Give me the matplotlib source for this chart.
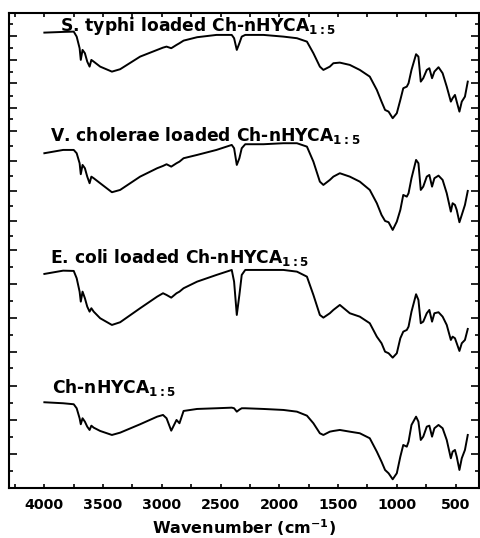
import numpy as np
import matplotlib
matplotlib.use('Agg')
import matplotlib.pyplot as plt
from matplotlib.ticker import MultipleLocator, FixedLocator

plt.rcParams['font.family'] = 'DejaVu Sans'
plt.rcParams['font.weight'] = 'bold'
plt.rcParams['mathtext.default'] = 'bf'

# wavenumber grid (cm-1) shared by all spectra
wavenumber = [4000, 3840, 3750, 3725, 3700, 3690, 3675, 3655, 3635, 3615,
              3600, 3580, 3525, 3425, 3355, 3185, 3040, 2990, 2960, 2920,
              2875, 2850, 2815, 2700, 2535, 2405, 2385, 2362, 2340, 2320,
              2290, 2135, 1965, 1850, 1765, 1710, 1655, 1625, 1570, 1540,
              1485, 1400, 1315, 1230, 1170, 1130, 1100, 1070, 1035, 1000,
              970, 945, 915, 900, 875, 836, 816, 796, 775, 745,
              723, 700, 680, 645, 610, 575, 540, 525, 505, 490,
              467, 447, 420, 396]

# absorption depth below each trace's offset (arbitrary units)
s_typhi = [12.7, 12.0, 11.7, 16.7, 28.3, 40.0, 30.0, 33.3, 41.7, 46.7,
           40.0, 41.7, 46.7, 51.7, 49.3, 36.7, 30.0, 27.7, 26.7, 28.3,
           25.0, 23.3, 20.7, 17.3, 15.0, 15.0, 18.3, 30.0, 23.3, 16.7,
           15.0, 15.0, 16.7, 18.3, 21.7, 33.3, 46.7, 50.0, 46.7, 43.3,
           42.7, 45.0, 50.0, 56.7, 70.0, 81.7, 90.0, 91.7, 98.3, 93.3,
           80.0, 68.3, 66.7, 63.3, 50.0, 34.3, 36.7, 61.7, 58.3, 50.0,
           48.3, 58.3, 51.7, 47.3, 53.3, 66.7, 81.7, 78.3, 75.0, 81.7,
           91.7, 81.7, 76.7, 61.7]

v_cholerae = [18.3, 15.0, 15.0, 18.3, 28.3, 39.3, 30.0, 33.3, 41.7, 48.3,
              41.7, 43.3, 48.3, 57.3, 55.0, 41.7, 33.3, 31.0, 29.3, 31.7,
              28.3, 26.7, 23.3, 20.0, 15.0, 10.0, 13.3, 30.0, 23.3, 13.3,
              9.3, 9.3, 8.3, 8.3, 11.7, 26.7, 46.7, 50.0, 45.0, 41.7,
              38.3, 41.7, 46.7, 55.0, 68.3, 80.0, 86.0, 87.3, 95.0, 86.7,
              75.0, 60.0, 61.7, 58.3, 43.3, 25.0, 28.3, 55.0, 51.7, 41.7,
              40.0, 51.7, 43.3, 40.7, 45.0, 58.3, 76.7, 68.3, 70.0, 75.0,
              87.3, 80.0, 70.0, 56.0]

e_coli = [19.0, 15.7, 16.0, 23.3, 36.7, 46.7, 36.7, 43.3, 51.7, 56.7,
          53.3, 56.7, 63.3, 70.0, 67.3, 53.3, 41.7, 38.3, 40.0, 42.7,
          38.3, 36.7, 33.3, 26.7, 20.0, 15.0, 26.7, 60.0, 40.0, 20.0,
          15.0, 15.0, 15.0, 16.7, 21.7, 40.0, 60.0, 62.7, 58.3, 55.0,
          50.0, 58.3, 61.7, 68.3, 81.7, 88.3, 96.7, 98.3, 102.7, 98.3,
          83.3, 76.7, 75.0, 71.7, 56.7, 39.3, 45.0, 68.3, 66.7, 58.3,
          55.0, 66.7, 58.3, 57.3, 61.7, 70.0, 85.0, 81.7, 83.3, 88.3,
          96.0, 88.3, 85.0, 74.0]

ch_nhyca = [17.3, 18.3, 19.3, 23.3, 33.3, 39.3, 33.3, 36.7, 41.7, 45.0,
            40.7, 42.7, 46.0, 50.0, 47.7, 39.3, 31.7, 30.0, 33.3, 45.7,
            35.0, 38.3, 26.0, 24.0, 23.3, 22.7, 23.3, 26.7, 24.7, 23.3,
            23.3, 24.0, 25.0, 26.7, 30.7, 38.3, 48.3, 50.0, 46.7, 46.0,
            45.0, 46.7, 48.3, 53.3, 66.7, 76.7, 85.0, 88.3, 94.3, 88.3,
            71.7, 60.0, 61.7, 56.7, 40.0, 31.7, 36.7, 55.0, 51.7, 41.7,
            40.7, 51.7, 43.3, 40.0, 43.3, 55.0, 73.3, 66.7, 65.0, 71.7,
            85.0, 73.3, 65.0, 50.0]

spectra = [s_typhi, v_cholerae, e_coli, ch_nhyca]
offsets = [468, 353, 233, 103]
labels = ['S. typhi loaded Ch-nHYCA$_{1:5}$',
          'V. cholerae loaded Ch-nHYCA$_{1:5}$',
          'E. coli loaded Ch-nHYCA$_{1:5}$',
          'Ch-nHYCA$_{1:5}$']
label_x = [3866, 3951, 3951, 3934]
label_y = [457, 347, 225, 95]

fig = plt.figure(figsize=(4.8, 5.38), dpi=100)
ax = fig.add_axes([0.019, 0.093, 0.979, 0.883])

wn = np.array(wavenumber)
for depth, off in zip(spectra, offsets):
    ax.plot(wn, off - np.array(depth), color='black', lw=1.4,
            solid_joinstyle='round')

for txt, tx, ty in zip(labels, label_x, label_y):
    ax.text(tx, ty, txt, fontsize=12.3, fontweight='bold', ha='left', va='baseline')

ax.set_xlim(4300, 300)
ax.set_ylim(0, 475)

ax.xaxis.set_minor_locator(MultipleLocator(250))
ax.set_xticks(range(500, 4001, 500))

major_y = [452, 428, 405, 380, 357, 327, 297, 267, 238, 204, 170, 136, 102, 68, 34]
minor_y = [464, 440, 416, 392, 369, 342, 312, 282, 252, 221, 187, 153, 120, 85, 51, 17]
ax.yaxis.set_major_locator(FixedLocator(major_y))
ax.yaxis.set_minor_locator(FixedLocator(minor_y))

ax.tick_params(which='both', direction='in', top=True, right=True,
               labelleft=False, width=1.2)
ax.tick_params(axis='y', which='major', length=6)
ax.tick_params(axis='y', which='minor', length=3)
ax.tick_params(axis='x', which='both', length=3)
ax.tick_params(axis='x', labelsize=10.3, pad=7)
for lab in ax.get_xticklabels():
    lab.set_fontweight('bold')

for s in ax.spines.values():
    s.set_linewidth(1.5)

ax.set_xlabel('Wavenumber (cm$^{-1}$)', fontsize=11.5, fontweight='bold', labelpad=4)

fig.savefig('out.png', dpi=100)
